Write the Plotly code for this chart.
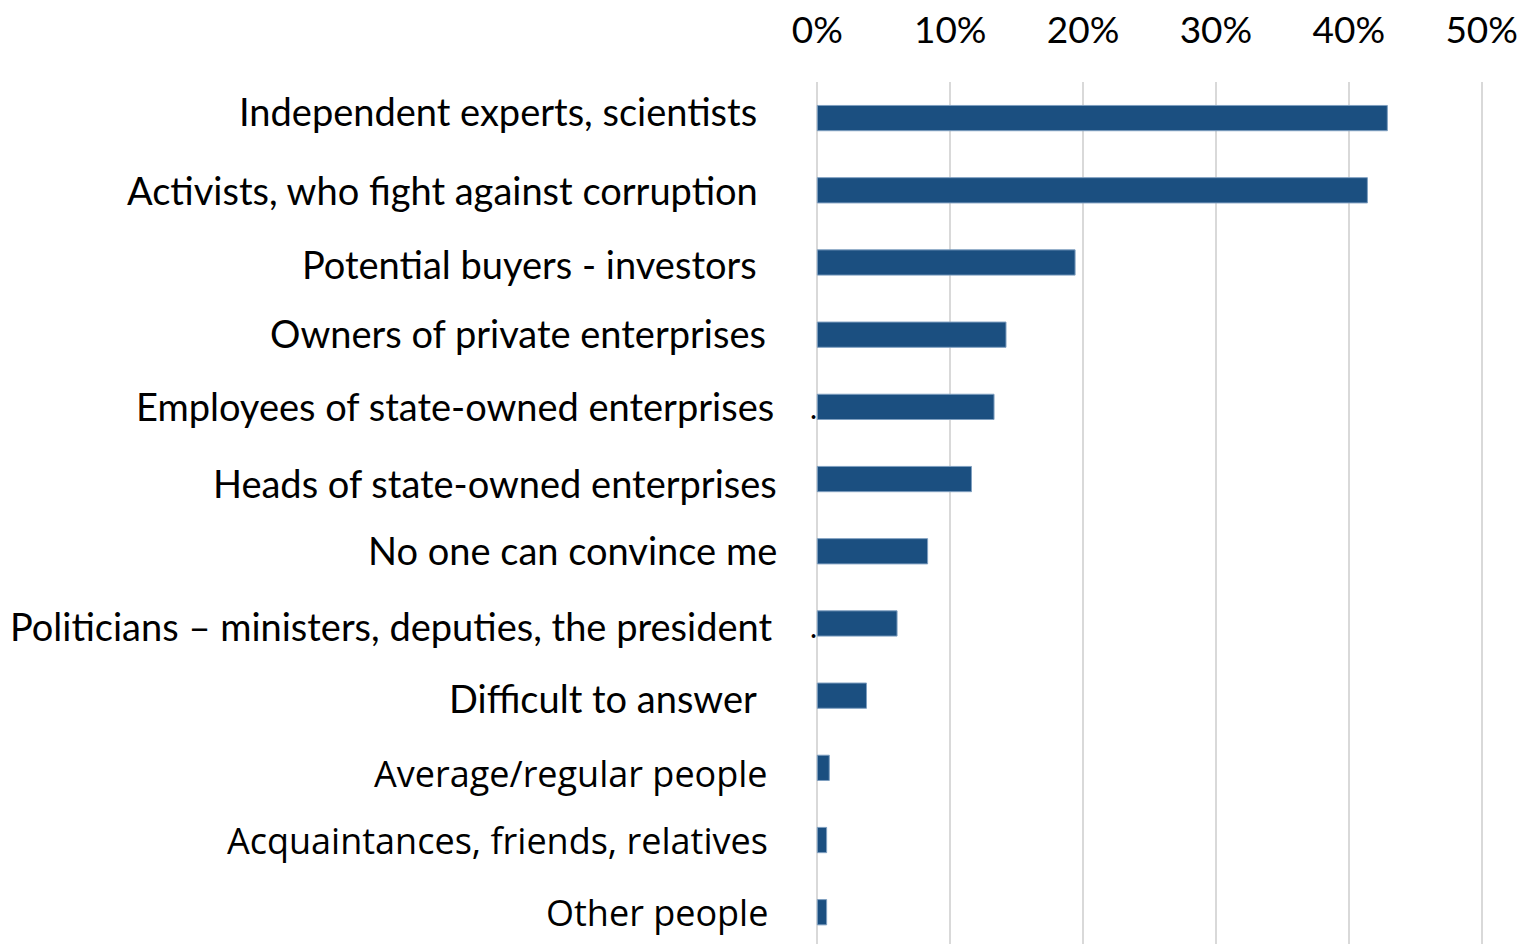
import plotly.graph_objects as go

categories = [
    "Independent experts, scientists",
    "Activists, who fight against corruption",
    "Potential buyers - investors",
    "Owners of private enterprises",
    "Employees of state-owned enterprises",
    "Heads of state-owned enterprises",
    "No one can convince me",
    "Politicians \u2013 ministers, deputies, the president",
    "Difficult to answer",
    "Average/regular people",
    "Acquaintances, friends, relatives",
    "Other people",
]
values = [42.9, 41.4, 19.4, 14.2, 13.3, 11.6, 8.3, 6.0, 3.7, 0.9, 0.7, 0.7]
x_ticks = [0, 10, 20, 30, 40, 50]
x_tick_labels = ["0%", "10%", "20%", "30%", "40%", "50%"]

# label placement (pixel offsets from the 0% line / bar centre)
label_xshift = [-58, -57, -58, -49, -41, -38, -38, -43, -58, -47, -47, -47]
label_yshift = [7.5, 0.5, -1.5, 1.5, 0.5, -3.5, 1.5, -2.5, -2.5, -5.5, -0.5, 0]
label_font = ["Lato"] * 9 + ["Open Sans"] * 3
label_size = [38] * 9 + [36] * 3

BAR = "#1b4f80"

fig = go.Figure()
fig.add_trace(go.Bar(
    y=categories, x=values, orientation="h",
    width=0.35,
    marker=dict(color=BAR, line=dict(color="#7f9fc0", width=1)),
    hoverinfo="x+y",
))

annotations = []
for i, c in enumerate(categories):
    annotations.append(dict(
        x=0, y=c, xref="x", yref="y", text=c, showarrow=False,
        xanchor="right", yanchor="middle",
        xshift=label_xshift[i], yshift=label_yshift[i],
        font=dict(family=label_font[i], size=label_size[i], color="#000000"),
    ))
# stray dots present in the original image
dot_rows = ["Employees of state-owned enterprises",
            "Politicians \u2013 ministers, deputies, the president"]
dot_yshift = [0, -3]
for c, ys in zip(dot_rows, dot_yshift):
    annotations.append(dict(
        x=0, y=c, xref="x", yref="y", text=".", showarrow=False,
        xanchor="center", yanchor="middle", xshift=-4, yshift=ys,
        font=dict(family="Lato", size=30, color="#000000"),
    ))

fig.update_layout(
    width=1519, height=944,
    margin=dict(l=816, r=36, t=82, b=0),
    paper_bgcolor="white", plot_bgcolor="white",
    showlegend=False,
    bargap=0.65,
    annotations=annotations,
    xaxis=dict(
        side="top", range=[-0.1, 50.1], tickvals=x_ticks, ticktext=x_tick_labels,
        showgrid=True, gridcolor="#d9d9d9", gridwidth=2,
        zeroline=False, showline=False,
        tickfont=dict(family="Lato", size=37, color="#000000"),
        ticks="", ticklabelstandoff=31,
    ),
    yaxis=dict(
        type="category", categoryorder="array", categoryarray=categories,
        range=[11.44, -0.5], showticklabels=False, showgrid=False,
        zeroline=False, showline=False, ticks="",
    ),
)

fig.write_html(
    "out.html",
    config={"displayModeBar": False},
    post_script="document.body.style.margin='0';document.body.style.overflow='hidden';",
)
